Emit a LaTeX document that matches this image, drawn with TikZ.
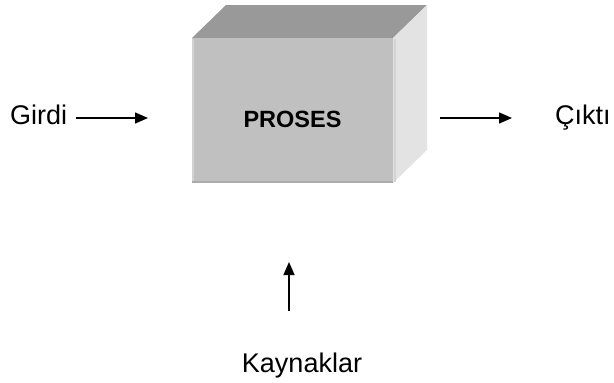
\documentclass[tikz,border=0pt]{standalone}
\usepackage{fontspec}
\setmainfont{Liberation Sans}
\usetikzlibrary{arrows.meta}
\definecolor{frontc}{HTML}{C0C0C0}
\definecolor{topc}{HTML}{999999}
\definecolor{rightc}{HTML}{E3E3E3}
\definecolor{edgedark}{HTML}{ABABAB}
\definecolor{edgelight}{HTML}{D2D2D2}
\begin{document}
\begin{tikzpicture}[x=1pt,y=-1pt,
  lbl/.style={inner sep=0pt,font=\fontsize{27}{32}\selectfont},
  arr/.style={line width=1.5pt,-{Triangle[length=13pt,width=11pt]}}]
\useasboundingbox (0,0) rectangle (614,383);
% cube
\fill[topc] (192,38) -- (226,5) -- (427,5) -- (393,38) -- cycle;
\fill[rightc] (393,38) -- (427,5) -- (427,150) -- (393,183) -- cycle;
\fill[frontc] (192,38) rectangle (393,183);
\draw[edgelight,line width=2pt] (193,39) -- (193,182);
\draw[edgelight,line width=2pt] (394.5,39) -- (394.5,182);
\draw[edgedark,line width=2pt] (192,182) -- (393,182);
\node[inner sep=0pt,anchor=base,font=\fontsize{23.5}{28}\selectfont\bfseries] (proses) at (292.5,127) {PROSES};
% labels
\node[lbl,anchor=base west] (girdi) at (10,124) {Girdi};
\node[lbl,anchor=base west] (cikti) at (555,124) {Çıktı};
\node[lbl,anchor=base] (kaynak) at (302,372) {Kaynaklar};
% arrow ends
\coordinate (a1s) at (76,118);
\coordinate (a1e) at (148,118);
\coordinate (a2s) at (440,118);
\coordinate (a2e) at (512,118);
\coordinate (a3s) at (289,311);
\coordinate (a3e) at (289,262);
\draw[arr] (a1s) -- (a1e);
\draw[arr] (a2s) -- (a2e);
\draw[arr] (a3s) -- (a3e);
\end{tikzpicture}
\end{document}
